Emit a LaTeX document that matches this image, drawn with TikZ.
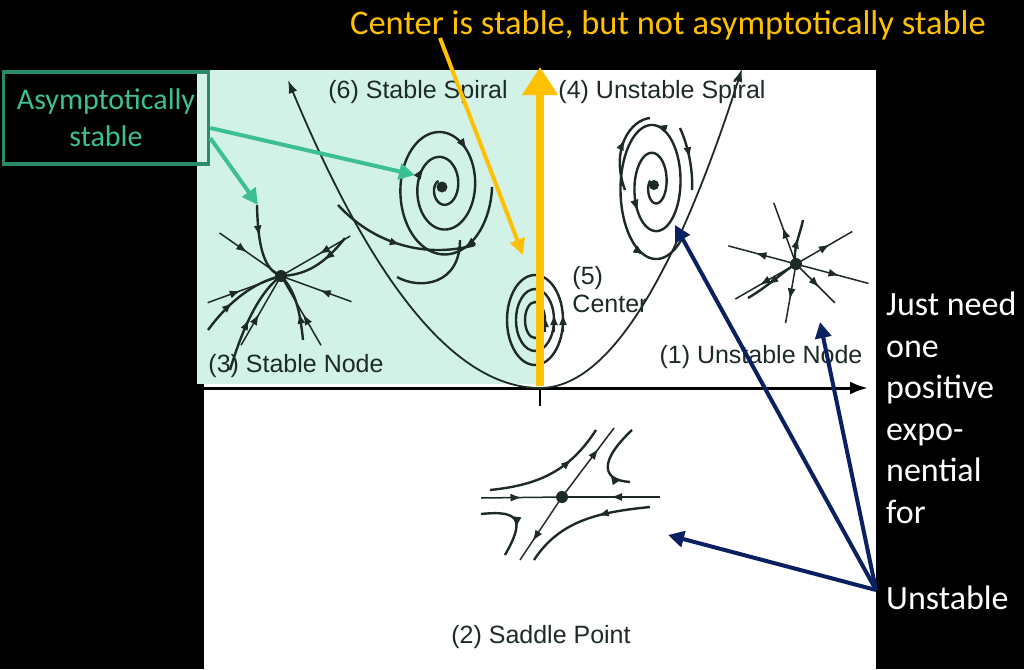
\documentclass[tikz,border=0pt]{standalone}
\usepackage{fontspec}
\setmainfont{Carlito}
\newfontfamily\lblfont{Liberation Sans}
\usetikzlibrary{arrows.meta,decorations.markings,calc}
\definecolor{teal0}{HTML}{D2F2E8}
\definecolor{gold}{HTML}{FFC000}
\definecolor{navy}{HTML}{0A2060}
\definecolor{grn}{HTML}{3DBF95}
\definecolor{grnbox}{HTML}{2A8A6A}
\definecolor{ink}{HTML}{1E2A26}
\tikzset{
 x=1pt,y=-1pt,
 traj/.style={ink,line width=2.4pt},
 thin/.style={ink,line width=1.5pt},
 mk/.style={postaction={decorate},decoration={markings,mark=at position #1 with {\arrow{Latex[length=11pt,width=8pt]}}}},
 lbl/.style={font=\lblfont\fontsize{25}{28}\selectfont,text=ink},
 wtxt/.style={text=white,font=\fontsize{34}{41.5}\selectfont,align=left,anchor=north west,inner sep=0},
 navyarr/.style={navy,line width=4pt,-{Triangle[length=16pt,width=16pt]}},
 grnarr/.style={grn,line width=4pt,-{Triangle[length=16pt,width=16pt]}},
}
\begin{document}
\begin{tikzpicture}
\useasboundingbox (0,0) rectangle (1024,669);
\fill[black] (0,0) rectangle (1024,669);
\fill[white] (204,70) rectangle (876,669);
\fill[teal0] (197,70) rectangle (540,384);
% axis
\draw[black,line width=3pt,-{Latex[length=18pt,width=13pt]}] (204,388) -- (868,388);
\draw[black,line width=2.5pt] (540,388) -- (540,406);
% parabola
\draw[traj,line width=1.8pt,-{Latex[length=13pt,width=9pt]}] plot[domain=540:288,samples=60] ({\x},{388-303*((\x-540)/250)^2});
\draw[traj,line width=1.8pt,-{Latex[length=13pt,width=9pt]}] plot[domain=540:742,samples=60] ({\x},{388-313*((\x-540)/200)^2});
% stable node (3)
\coordinate (sn) at (281,276);
\fill[ink] (sn) circle (6);
\foreach \a/\l in {20/75,160/78,215/75,330/80,120/80,60/80} {\draw[thin,mk=0.45] ($(sn)+(\a:\l)$) -- (sn);}
\draw[traj,mk=0.4] (257,205) .. controls (258,250) and (265,270) .. (sn);
\draw[traj,mk=0.5] (230,370) .. controls (245,320) and (262,290) .. (sn);
\draw[traj,mk=0.4] (303,340) .. controls (300,310) and (295,290) .. (sn);
\draw[traj,mk=0.4] (208,330) .. controls (230,300) and (255,282) .. (sn);
\draw[traj,mk=0.4] (345,238) .. controls (320,270) and (300,275) .. (sn);
% stable spiral (6)
\coordinate (ss) at (442,187);
\fill[ink] (ss) circle (5.5);
\draw[traj,mk=0.12,mk=0.5,mk=0.8] plot[domain=1060:110,samples=200] ({442+17*(\x/360)*cos(\x+20)},{187-25*(\x/360)*sin(\x+20)});
\draw[traj,mk=0.5] (338,205) .. controls (370,240) and (420,260) .. (475,245);
\draw[traj] (397,277) .. controls (420,290) and (460,285) .. (460,240);
% unstable spiral (4)
\coordinate (us) at (654,185);
\fill[ink] (us) circle (5);
\draw[traj,mk=0.3,mk=0.6,mk=0.9] plot[domain=110:1000,samples=200] ({654+14*(\x/360)*cos(\x+40)},{185-28*(\x/360)*sin(\x+40)});
\draw[traj,mk=0.6] (625,190) .. controls (610,150) and (630,120) .. (650,118);
\draw[traj,mk=0.5] (680,128) .. controls (690,150) and (693,175) .. (692,190);
% center (5)
\foreach \rx/\ry in {10/18,19/31,28/45} {\draw[traj] (535,320) ellipse ({\rx} and {\ry});}
\draw[ink,-{Latex[length=11pt,width=8pt]},line width=1.8pt] (545,332) -- (545,316);
\draw[ink,-{Latex[length=11pt,width=8pt]},line width=1.8pt] (554,332) -- (554,314);
\draw[ink,-{Latex[length=11pt,width=8pt]},line width=1.8pt] (563,332) -- (563,314);
% unstable node (1)
\coordinate (un) at (796,264);
\fill[ink] (un) circle (6);
\foreach \a/\l in {150/70,15/75,195/70,330/65,100/60,250/65,45/55} {\draw[thin,mk=0.6] (un) -- ($(un)+(\a:\l)$);}
\draw[traj,mk=0.6] (un) .. controls (792,250) and (800,235) .. (803,220);
\draw[traj,mk=0.6] (un) .. controls (785,270) and (770,285) .. (748,298);
% saddle (2)
\coordinate (sd) at (562,497);
\fill[ink] (sd) circle (6);
\draw[thin,mk=0.5] (481,498) -- (sd);
\draw[thin,mk=0.5] (660,497) -- (sd);
\draw[thin,mk=0.7] (sd) -- (614,428);
\draw[thin,mk=0.7] (sd) -- (520,560);
\draw[traj,mk=0.7] (490,490) .. controls (540,485) and (570,470) .. (596,430);
\draw[traj,mk=0.3] (630,482) .. controls (600,480) and (600,460) .. (632,430);
\draw[traj,mk=0.4] (650,507) .. controls (600,512) and (560,520) .. (534,560);
\draw[traj,mk=0.6] (481,514) .. controls (520,510) and (525,520) .. (505,555);
% labels
\node[lbl] (l6) at (418,92) {(6) Stable Spiral};
\node[lbl] (l4) at (662,92) {(4) Unstable Spiral};
\node[lbl,align=left] (l5) at (610,290) {(5)\\Center};
\node[lbl] (l3) at (296,366) {(3) Stable Node};
\node[lbl] (l1) at (761,357) {(1) Unstable Node};
\node[lbl] (l2) at (541,637) {(2) Saddle Point};
% yellow
\node[text=gold,font=\fontsize{34.5}{40}\selectfont] (title) at (668,25) {Center is stable, but not asymptotically stable};
\coordinate (ybase) at (540,386);
\coordinate (ytop) at (540,67);
\draw[gold,line width=8pt,-{Triangle[length=28pt,width=34pt]}] (ybase) -- (ytop);
\coordinate (ys) at (440,38);
\coordinate (ye) at (523,255);
\draw[gold,line width=4pt,-{Triangle[length=16pt,width=15pt]}] (ys) -- (ye);
% green box
\node[draw=grnbox,line width=3.5pt,minimum width=205pt,minimum height=92pt,text=grn,font=\fontsize{30}{37}\selectfont,align=center] (asy) at (106,118) {Asymptotically\\stable};
\coordinate (g1) at (415,175);
\coordinate (g2) at (258,205);
\draw[grnarr] (asy.east) ++(0,10) -- (g1);
\draw[grnarr] (asy.east) ++(0,20) -- (g2);
% right text
\node[wtxt] (jn) at (886,292) {Just need\\one\\positive\\expo-\\nential\\for};
\node[wtxt] (uns) at (886,586) {Unstable};
\coordinate (nv) at (876,590);
\coordinate (n1) at (675,225);
\coordinate (n2) at (820,322);
\coordinate (n3) at (668,535);
\draw[navyarr] (nv) -- (n1);
\draw[navyarr] (nv) -- (n2);
\draw[navyarr] (nv) -- (n3);
\end{tikzpicture}
\end{document}
